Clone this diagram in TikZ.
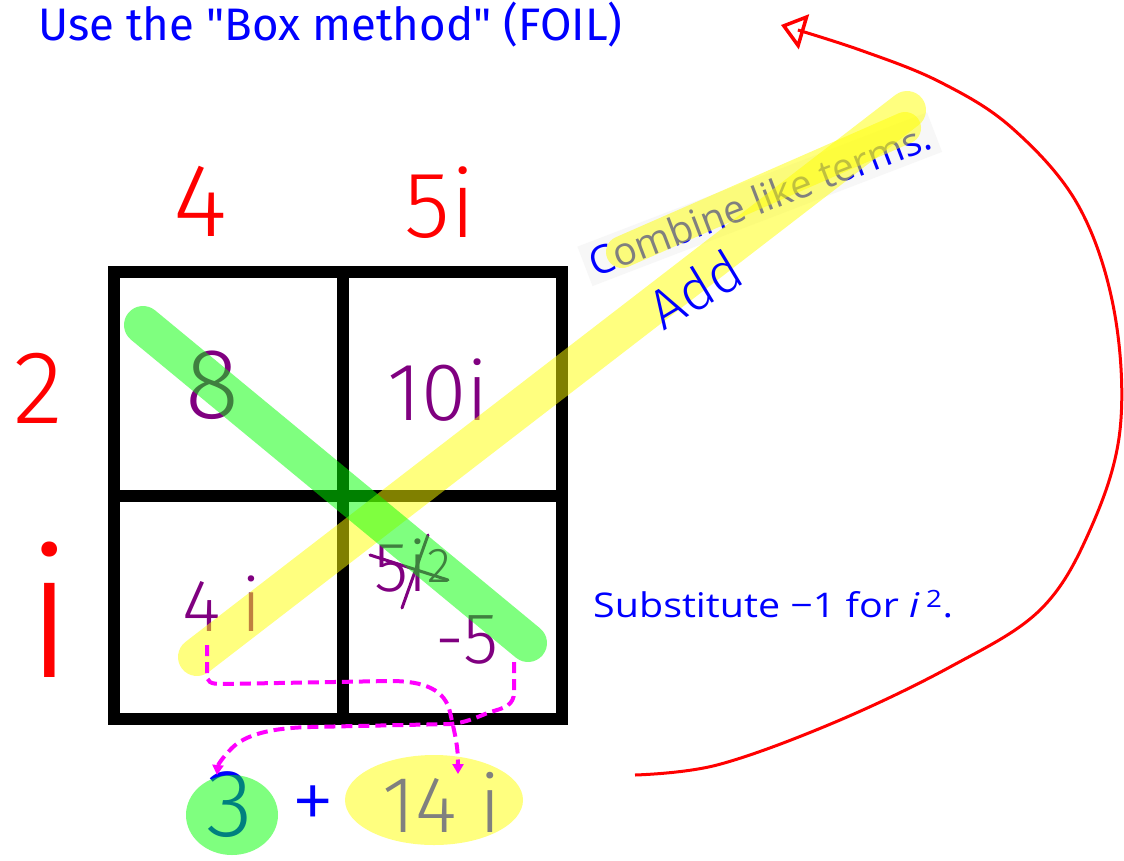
\documentclass[tikz,border=0pt]{standalone}
\usepackage{fontspec}
\usepackage{graphicx}
\setmainfont{Open Sans}
\newfontfamily\hand{Fira Sans Light}
\newfontfamily\titlefnt{Fira Sans}[Ligatures=TeXOff]
\usetikzlibrary{arrows.meta}
\definecolor{penblue}{RGB}{0,0,255}
\definecolor{penred}{RGB}{255,0,0}
\definecolor{penpurple}{RGB}{128,0,128}
\definecolor{penmag}{RGB}{255,0,255}
\definecolor{hlgreen}{RGB}{0,255,0}
\definecolor{hlyellow}{RGB}{255,255,0}
\begin{document}
\begin{tikzpicture}[x=1pt,y=-1pt,
  hl/.style={line width=38pt, line cap=round, opacity=0.5},
  grid/.style={line width=12pt, draw=black},
  redhand/.style={text=penred, inner sep=0pt},
  cellhand/.style={text=penpurple, inner sep=0pt},
  bluehand/.style={text=penblue, inner sep=0pt},
  mag/.style={draw=penmag, line width=4pt, dash pattern=on 11pt off 6pt,
    -{Triangle[length=10pt,width=11pt]}},
  redcurve/.style={draw=penred, line width=3pt,
    -{Triangle[open,length=24pt,width=36pt,line width=3.5pt]}},
  typed/.style={text=penblue, inner sep=0pt}
]
\useasboundingbox (0,0) rectangle (1124,860);
\fill[white] (0,0) rectangle (1124,860);

% title
\node[anchor=west, text=penblue, inner sep=0pt] (title) at (38,25)
  {\resizebox{584pt}{!}{\titlefnt Use the "Box method" (FOIL)}};

% factor labels
\node[redhand, font=\hand\fontsize{104}{110}\selectfont] (f4) at (200,201) {4};
\node[redhand, font=\hand\fontsize{94}{100}\selectfont] (f5i) at (440,203) {5i};
\node[redhand, font=\hand\fontsize{104}{110}\selectfont] (f2) at (38,388) {2};
\node[redhand, font=\hand\fontsize{180}{190}\selectfont] (fi) at (50,610) {i};

% grid
\draw[grid] (114,272) rectangle (562,719);
\draw[grid] (343,272) -- (343,719);
\draw[grid] (114,496) -- (562,496);

% cell products
\node[cellhand, font=\hand\fontsize{100}{110}\selectfont] (c8) at (212,385) {8};
\node[cellhand, font=\hand\fontsize{82}{90}\selectfont] (c10i) at (438,390) {10i};
\node[cellhand, font=\hand\fontsize{74}{80}\selectfont] (c4i) at (222,604) {4 i};
\node[cellhand, font=\hand\fontsize{70}{80}\selectfont] (c5i2) at (413,566) {5i\textsuperscript{2}};
\draw[penpurple, line width=3pt, line cap=round] (370,555) -- (448,580);
\draw[penpurple, line width=3pt, line cap=round] (402,608) -- (428,535);
\node[cellhand, font=\hand\fontsize{72}{80}\selectfont] (cm5) at (467,640) {-5};

% typed notes
\node[typed, anchor=base west, rotate=21, fill=black!3, inner sep=6pt,
  font=\fontsize{39}{44}\selectfont] (combine) at (590,280)
  {Combine like terms.};
\node[typed, anchor=base west, font=\fontsize{34}{40}\selectfont] (subst) at (593,617)
  {\scalebox{1.16}[1]{Substitute −1 for \textit{i}\,\textsuperscript{2}.}};

% result
\node[bluehand, font=\hand\fontsize{96}{100}\selectfont] (three) at (230,805) {3};
\node[bluehand, font=\hand\fontsize{88}{90}\selectfont] (plus) at (313,808) {+};
\node[bluehand, font=\hand\fontsize{80}{90}\selectfont] (fourteeni) at (442,802) {14 i};

% highlighters
\draw[hl, draw=hlyellow] (197,657) -- (907,110);
\draw[hl, draw=hlyellow, line width=32pt] (622,252) -- (905,128);
\draw[hl, draw=hlgreen] (143,325) -- (528,643);
\fill[hlgreen, opacity=0.5] (232,815) ellipse [x radius=46, y radius=40];
\fill[hlyellow, opacity=0.5] (434,800) ellipse [x radius=89, y radius=45];

% Add
\node[bluehand, font=\hand\fontsize{56}{60}\selectfont, rotate=31] (add) at (695,289) {Add};

% magenta dashed connectors
\coordinate (s1) at (207,645);
\coordinate (e1) at (458,774);
\coordinate (s2) at (514,662);
\coordinate (e2) at (217,775);
\draw[mag] (s1) -- (207,674) .. controls (207,682) and (210,684) .. (222,684)
  -- (390,681) .. controls (425,681) and (445,690) .. (450,712)
  .. controls (455,735) and (458,745) .. (e1);
\draw[mag] (s2) -- (514,692) .. controls (514,705) and (505,708) .. (490,712)
  .. controls (475,718) and (465,723) .. (450,724) -- (310,727)
  .. controls (270,728) and (245,735) .. (232,748)
  .. controls (222,758) and (218,765) .. (e2);

% red return arrow
\coordinate (rs) at (635,775);
\coordinate (re) at (781,25);
\draw[redcurve] plot[smooth, tension=0.6] coordinates {(rs) (717,765) (833,723) (950,667)
  (1040,610) (1090,530) (1120,430) (1114,310) (1078,205) (1012,128) (940,82) (860,50) (re)};
\end{tikzpicture}
\end{document}
